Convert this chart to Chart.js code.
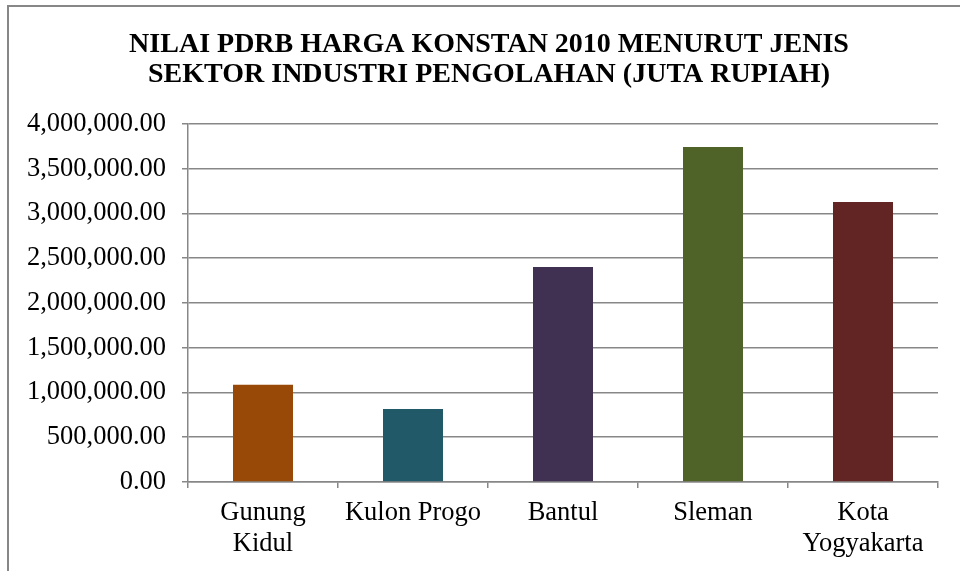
<!DOCTYPE html>
<html>
<head>
<meta charset="utf-8">
<script src="https://cdn.jsdelivr.net/npm/chart.js@4/dist/chart.umd.min.js"></script>
<style>
	html, body { margin: 0; padding: 0; background: #fff; overflow: hidden; }
	#wrap { position: relative; width: 960px; height: 571px; }
	#frame { position: absolute; left: 7px; top: 5px; width: 980px; height: 600px; border: 2px solid #878787; box-sizing: border-box; pointer-events: none; }
	canvas { position: absolute; left: 0; top: 0; }
</style>
</head>
<body>
<div id="wrap">
	<canvas id="pdrbChart" width="960" height="571"></canvas>
	<div id="frame"></div>
</div>
<script>
const titleLines = ['NILAI PDRB HARGA KONSTAN 2010 MENURUT JENIS', 'SEKTOR INDUSTRI PENGOLAHAN (JUTA RUPIAH)'];
const regions = [['Gunung', 'Kidul'], 'Kulon Progo', 'Bantul', 'Sleman', ['Kota', 'Yogyakarta']];
const pdrbValues = [1085000, 816000, 2402000, 3743000, 3128000];
const barColors = ['#984807', '#215968', '#403152', '#4F6228', '#632523'];
const yMax = 4000000;
const yStep = 500000;

document.addEventListener('DOMContentLoaded', () => {
	const canvas = document.getElementById('pdrbChart');
	const serif = "'Liberation Serif', 'Times New Roman', serif";

	function formatNumber(v) {
		return Number(v).toLocaleString('en-US', { minimumFractionDigits: 2, maximumFractionDigits: 2 });
	}

	// the title sits a bit right of the canvas centre, so narrow its box on the left
	const titleShift = {
		id: 'titleShift',
		afterLayout(chart) {
			if (chart.titleBlock) chart.titleBlock.left = 40;
		}
	};

	new Chart(canvas.getContext('2d'), {
		type: 'bar',
		data: {
			labels: regions,
			datasets: [{
				data: pdrbValues,
				backgroundColor: barColors,
				borderWidth: 0,
				categoryPercentage: 1,
				barPercentage: 0.4
			}]
		},
		options: {
			responsive: false,
			animation: false,
			layout: { padding: { left: 0, right: 22, top: 0, bottom: 0 } },
			plugins: {
				legend: { display: false },
				tooltip: { enabled: false },
				title: {
					display: true,
					text: titleLines,
					color: '#000',
					font: { family: serif, size: 28, weight: 'bold', lineHeight: 1.07 },
					padding: { top: 30, bottom: 34 }
				}
			},
			scales: {
				x: {
					border: { display: true, color: '#878787', width: 1.5 },
					grid: { display: true, drawOnChartArea: false, drawTicks: true, tickLength: 6, color: '#878787', lineWidth: 1.5, offset: true },
					ticks: { color: '#000', font: { family: serif, size: 26.5, lineHeight: 1.15 }, padding: 10, maxRotation: 0, autoSkip: false },
					afterFit: scale => { scale.height = 89; }
				},
				y: {
					min: 0,
					max: yMax,
					border: { display: true, color: '#878787', width: 1.5 },
					grid: { color: '#878787', lineWidth: 1.5, tickLength: 6 },
					ticks: { stepSize: yStep, color: '#000', font: { family: serif, size: 26.5 }, padding: 16, callback: v => formatNumber(v) },
					afterFit: scale => { scale.width = 188; }
				}
			}
		},
		plugins: [titleShift]
	});
});
</script>
</body>
</html>
